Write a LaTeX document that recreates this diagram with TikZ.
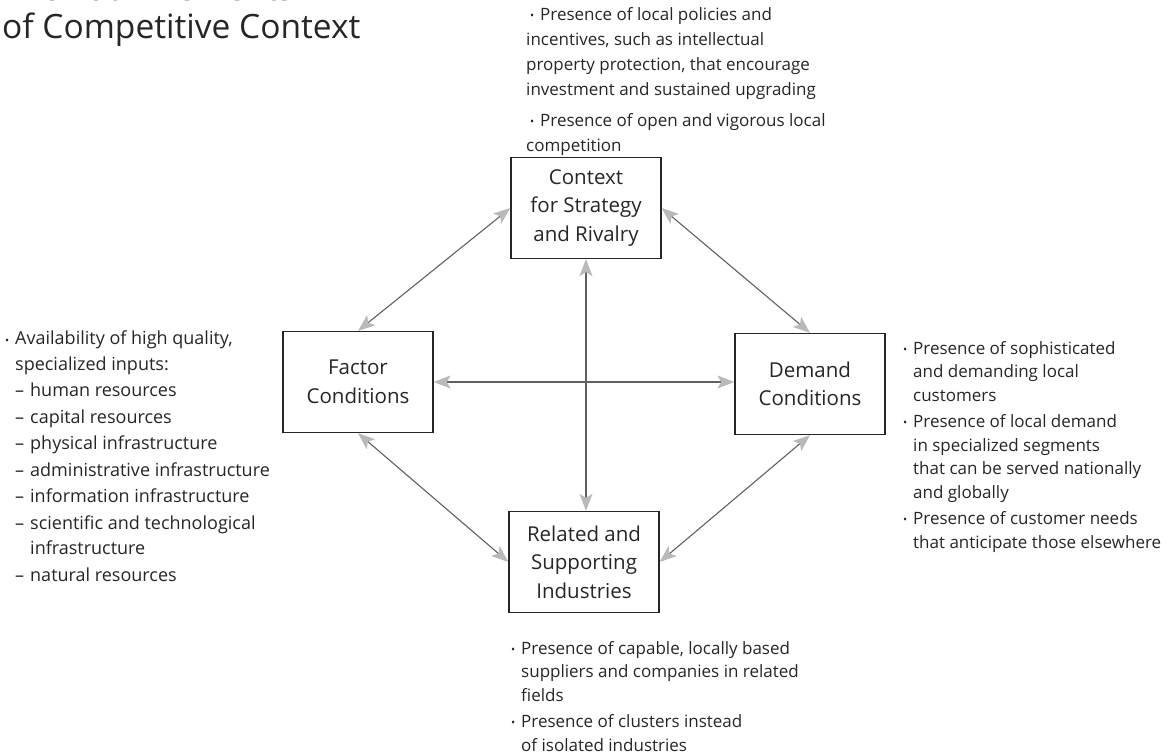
\documentclass[tikz,border=0pt]{standalone}
\usepackage{fontspec}
\setmainfont{Open Sans}
\usepackage{tikz}
\usetikzlibrary{arrows.meta}
\tikzset{
    box/.style={draw=black!85, line width=1.3pt, minimum width=150pt, minimum height=101pt, align=center, inner sep=0pt,
      font=\fontsize{20.5}{28.5}\selectfont, text=black!85},
    link/.style={{Stealth[length=17pt,width=13pt,inset=4pt,color=gray!55]}-{Stealth[length=17pt,width=13pt,inset=4pt,color=gray!55]},
      draw=gray!75!black, line width=1.1pt},
    notes/.style={anchor=north west, align=left, inner sep=0pt, font=\fontsize{17}{23.5}\selectfont, text=black!85}
}
\newcommand{\bul}{\makebox[10pt][l]{\raisebox{0.1ex}{\fontsize{11}{11}\selectfont\textbullet}}}
\newcommand{\dashitem}{\makebox[15pt][l]{–}}

\begin{document}
\begin{tikzpicture}[x=1pt,y=-1pt]
\useasboundingbox (0,0) rectangle (1171,753);

\node[anchor=base west, inner sep=0pt, font=\fontsize{33.5}{40}\selectfont, text=black!85] (title1) at (2,0) {The Four Elements};
\node[anchor=base west, inner sep=0pt, font=\fontsize{33.5}{40}\selectfont, text=black!85] (title2) at (2,38) {of Competitive Context};

\node[box] (context) at (586,208) {Context\\for Strategy\\and Rivalry};
\node[box] (factor) at (358,382) {Factor\\Conditions};
\node[box] (demand) at (810,384) {Demand\\Conditions};
\node[box] (related) at (584,562) {Related and\\Supporting\\Industries};

\draw[link] (factor.north) -- (context.west);
\draw[link] (context.east) -- (demand.north);
\draw[link] (factor.south) -- (related.west);
\draw[link] (demand.south) -- (related.east);
\draw[link] (factor.east) -- (demand.west |- factor.east);
\draw[link] (context.south) -- (related.north -| context.south);

\node[notes, font=\fontsize{17}{25}\selectfont] (ctxnotes) at (526,7) {\hspace*{4pt}\bul Presence of local policies and\\
incentives, such as intellectual\\
property protection, that encourage\\
investment and sustained upgrading\\[6pt]
\hspace*{4pt}\bul Presence of open and vigorous local\\
competition};

\node[notes, font=\fontsize{18}{25.5}\selectfont] (facnotes) at (5,331) {\bul Availability of high quality,\\
\hspace*{10pt}specialized inputs:\\[1pt]
\hspace*{10pt}\dashitem human resources\\[1pt]
\hspace*{10pt}\dashitem capital resources\\[1pt]
\hspace*{10pt}\dashitem physical infrastructure\\[1pt]
\hspace*{10pt}\dashitem administrative infrastructure\\[1pt]
\hspace*{10pt}\dashitem information infrastructure\\[1pt]
\hspace*{10pt}\dashitem scientific and technological\\
\hspace*{25pt}infrastructure\\[1pt]
\hspace*{10pt}\dashitem natural resources};

\node[notes] (demnotes) at (903,341) {\bul Presence of sophisticated\\
\hspace*{10pt}and demanding local\\
\hspace*{10pt}customers\\[3pt]
\bul Presence of local demand\\
\hspace*{10pt}in specialized segments\\
\hspace*{10pt}that can be served nationally\\
\hspace*{10pt}and globally\\[3pt]
\bul Presence of customer needs\\
\hspace*{10pt}that anticipate those elsewhere};

\node[notes] (relnotes) at (511,641) {\bul Presence of capable, locally based\\
\hspace*{10pt}suppliers and companies in related\\
\hspace*{10pt}fields\\[3pt]
\bul Presence of clusters instead\\
\hspace*{10pt}of isolated industries};
\end{tikzpicture}
\end{document}
